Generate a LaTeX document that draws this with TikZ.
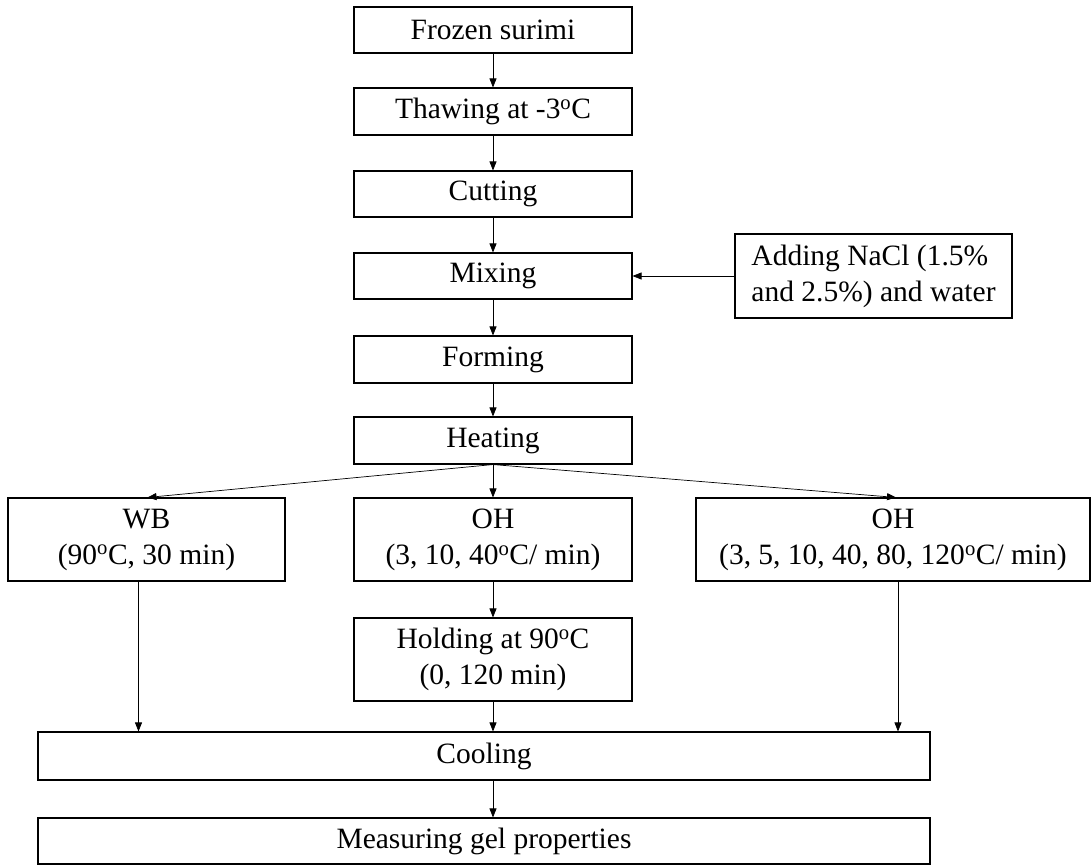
\documentclass[tikz,border=0pt]{standalone}
\usepackage{fontspec}
\setmainfont{Liberation Serif}
\usetikzlibrary{arrows.meta}
\begin{document}
\begin{tikzpicture}[x=1pt,y=-1pt,
  box/.style={draw=black,line width=1.1pt,rectangle,inner sep=0pt,align=center,
    font=\fontsize{29.5}{36}\selectfont},
  arr/.style={draw=black,line width=0.7pt,-{Triangle[length=9pt,width=7pt]}}]
\useasboundingbox (0,0) rectangle (1092,866);
\fill[white] (0,0) rectangle (1092,866);
% main column
\node[box,minimum width=278pt,minimum height=46pt] (frozen) at (493,30) {Frozen surimi};
\node[box,minimum width=278pt,minimum height=47pt] (thaw) at (493,111.5) {Thawing at -3\textsuperscript{o}C};
\node[box,minimum width=278pt,minimum height=46pt] (cut) at (493,194) {Cutting};
\node[box,minimum width=278pt,minimum height=46pt] (mix) at (493,276) {Mixing};
\node[box,minimum width=278pt,minimum height=47pt] (form) at (493,359.5) {Forming};
\node[box,minimum width=278pt,minimum height=47pt] (heat) at (493,440.5) {Heating};
\node[box,minimum width=277pt,minimum height=84pt,align=left] (add) at (873.5,276) {Adding NaCl (1.5\%\\and 2.5\%) and water};
% branches
\node[box,minimum width=277pt,minimum height=83pt] (wb) at (146.5,539.5) {WB\\(90\textsuperscript{o}C, 30 min)};
\node[box,minimum width=278pt,minimum height=83pt] (ohm) at (493,539.5) {OH\\(3, 10, 40\textsuperscript{o}C/ min)};
\node[box,minimum width=394pt,minimum height=83pt] (ohr) at (893,539.5) {OH\\(3, 5, 10, 40, 80, 120\textsuperscript{o}C/ min)};
\node[box,minimum width=278pt,minimum height=83pt] (hold) at (493,659.5) {Holding at 90\textsuperscript{o}C\\(0, 120 min)};
\node[box,minimum width=892pt,minimum height=48pt] (cool) at (484,756) {Cooling};
\node[box,minimum width=892pt,minimum height=46pt] (meas) at (484,841) {Measuring gel properties};
% connectors
\draw[arr] (frozen) -- (thaw);
\draw[arr] (thaw) -- (cut);
\draw[arr] (cut) -- (mix);
\draw[arr] (mix) -- (form);
\draw[arr] (form) -- (heat);
\draw[arr] (add.west) -- (mix.east);
\draw[arr] (heat.south) -- ([xshift=1pt]wb.north);
\draw[arr] (heat.south) -- (ohm.north);
\draw[arr] (heat.south) -- ([xshift=3pt]ohr.north);
\draw[arr] (ohm) -- (hold);
\coordinate (wbout) at ([xshift=-8pt]wb.south);
\coordinate (ohrout) at ([xshift=5pt]ohr.south);
\draw[arr] (wbout) -- (wbout |- cool.north);
\draw[arr] (hold.south) -- (hold.south |- cool.north);
\draw[arr] (ohrout) -- (ohrout |- cool.north);
\draw[arr] (hold.south |- cool.south) -- (hold.south |- meas.north);
\end{tikzpicture}
\end{document}
